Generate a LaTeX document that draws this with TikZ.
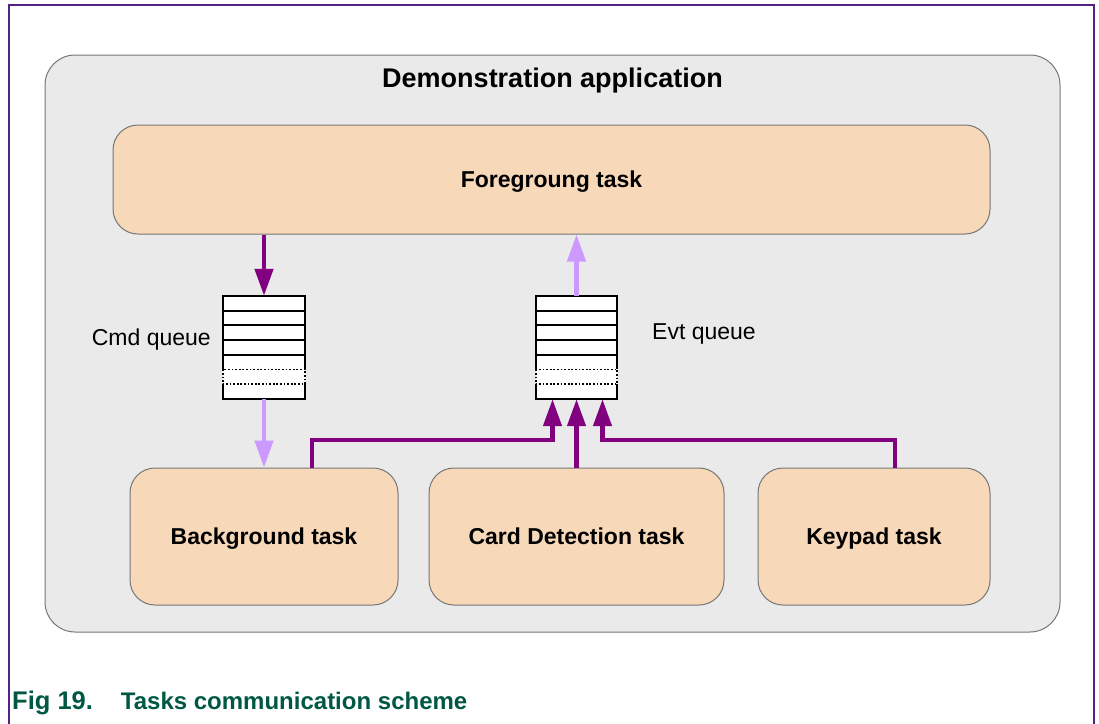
\documentclass[tikz,border=0pt]{standalone}
\usepackage{fontspec}
\setmainfont{Liberation Sans}
\usetikzlibrary{arrows.meta,calc}

\definecolor{framepurple}{RGB}{84,34,130}
\definecolor{appgray}{RGB}{234,234,234}
\definecolor{edgegray}{RGB}{118,118,118}
\definecolor{taskpeach}{RGB}{247,216,184}
\definecolor{msgdark}{RGB}{128,0,128}
\definecolor{msglight}{RGB}{204,153,255}
\definecolor{captiongreen}{RGB}{0,88,68}

\tikzset{
  appbox/.style={draw=edgegray, line width=1pt, fill=appgray, rounded corners=30pt,
    minimum width=1015pt, minimum height=577pt, inner sep=0pt},
  taskbox/.style={draw=edgegray, line width=1pt, fill=taskpeach, rounded corners=25pt,
    inner sep=0pt, text height=16.5pt, text depth=0pt,
    font=\fontsize{23}{26}\selectfont\bfseries},
  queuebox/.style={fill=white, inner sep=0pt, minimum width=82pt, minimum height=103pt},
  qline/.style={draw=black, line width=2pt},
  qdots/.style={draw=black, line width=1.6pt, dash pattern=on 1.8pt off 1.8pt},
  darkmsg/.style={draw=msgdark, line width=4.5pt, -{Triangle[length=27pt,width=18pt]}},
  lightmsg/.style={draw=msglight, line width=4.5pt, -{Triangle[length=27pt,width=18pt]}},
  qlabel/.style={inner sep=0pt, font=\fontsize{23}{26}\selectfont},
}

% inner rows of a message queue: five solid slots, one dotted slot, one solid slot
\newcommand\queuerows[1]{%
  \draw[qline] ($(#1.north west)+(0,73.57)$) -- (#1.north west) -- (#1.north east)
               -- ($(#1.north east)+(0,73.57)$);
  \foreach \k in {1,...,4}
    \draw[qline] ($(#1.north west)+(0,\k*14.714)$) -- ($(#1.north east)+(0,\k*14.714)$);
  \draw[qdots] ($(#1.north west)+(0,73.57)$) rectangle ($(#1.north east)+(0,88.29)$);
  \draw[qline] ($(#1.north west)+(0,88.29)$) -- (#1.south west) -- (#1.south east)
               -- ($(#1.north east)+(0,88.29)$);
}

\begin{document}
\begin{tikzpicture}[x=1pt, y=-1pt]
  \useasboundingbox (0,0) rectangle (1099,723);

  % open page frame
  \draw[framepurple, line width=1.3pt] (9,725) -- (9,5) -- (1094,5) -- (1094,725);

  % application container
  \node[appbox] (app) at (552.5,343.5) {};
  \node[inner sep=0pt, text height=19.5pt, text depth=0pt,
        font=\fontsize{27}{30}\selectfont\bfseries] (title) at (552.5,78) {Demonstration application};

  % tasks
  \node[taskbox, minimum width=877pt, minimum height=109pt] (fg) at (551.5,179.5) {Foregroung task};
  \node[taskbox, minimum width=268pt, minimum height=137pt] (bg) at (264,536.5) {Background task};
  \node[taskbox, minimum width=295pt, minimum height=137pt] (cd) at (576.5,536.5) {Card Detection task};
  \node[taskbox, minimum width=232pt, minimum height=137pt] (kp) at (874,536.5) {Keypad task};

  % queues
  \node[queuebox] (cmdq) at (264,347.5) {};
  \queuerows{cmdq}
  \node[queuebox, minimum width=81pt] (evq) at (576.5,347.5) {};
  \queuerows{evq}
  \node[qlabel, anchor=east] (cmdlbl) at (211,340) {Cmd queue};
  \node[qlabel, anchor=west] (evtlbl) at (652,334) {Evt queue};

  % messages
  \coordinate (bus) at (0,440);
  \draw[darkmsg] (fg.south -| cmdq.north) -- (cmdq.north);
  \draw[lightmsg] (cmdq.south) -- (bg.north -| cmdq.south);
  \draw[lightmsg] (evq.north) -- (fg.south -| evq.north);
  \draw[darkmsg, line join=miter] ([xshift=48pt]bg.north) |- ([xshift=-24pt]evq.south |- bus)
        -- ([xshift=-24pt]evq.south);
  \draw[darkmsg] (cd.north -| evq.south) -- (evq.south);
  \draw[darkmsg, line join=miter] ([xshift=21pt]kp.north) |- ([xshift=26pt]evq.south |- bus)
        -- ([xshift=26pt]evq.south);

  % caption
  \node[anchor=west, inner sep=0pt, text=captiongreen, font=\fontsize{24}{28}\selectfont\bfseries]
    (caption) at (12,703) {{\fontsize{25.5}{28}\selectfont Fig 19.}\hspace{28pt}Tasks communication scheme};
\end{tikzpicture}
\end{document}
